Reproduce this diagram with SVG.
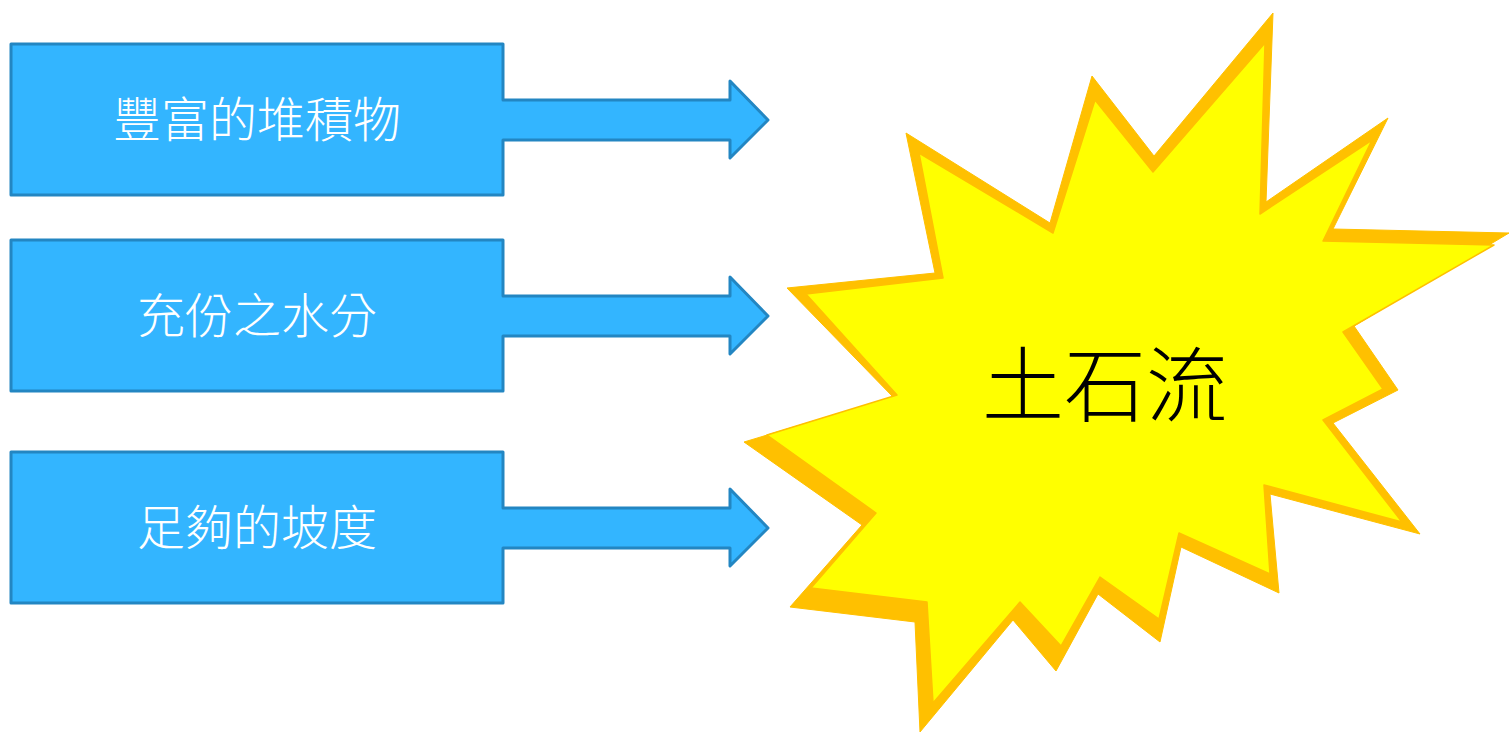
<svg xmlns="http://www.w3.org/2000/svg" width="1509" height="732" viewBox="0 0 1509 732">
<style>
.arrow{fill:#33B5FF;stroke:#2386C2;stroke-width:3;stroke-linejoin:round}
.lbl{fill:#FFFFFF;font-family:"Noto Sans CJK TC","Noto Sans CJK SC",sans-serif;font-size:48px;font-weight:300;text-anchor:middle;dominant-baseline:central}
.main{fill:#000000;font-family:"Noto Sans CJK TC","Noto Sans CJK SC",sans-serif;font-size:82px;font-weight:300;text-anchor:middle;dominant-baseline:central}
</style>
<rect width="1509" height="732" fill="#FFFFFF"/>
<g id="node1">
<path class="arrow" d="M11,44 H503 V100 H730 V81 L768,120 L730,158 V140 H503 V195 H11 Z"/>
<text class="lbl" x="257" y="116">豐富的堆積物</text>
</g>
<g id="node2">
<path class="arrow" d="M11,240 H503 V296 H730 V277 L768,316 L730,354 V336 H503 V391 H11 Z"/>
<text class="lbl" x="257" y="312">充份之水分</text>
</g>
<g id="node3">
<path class="arrow" d="M11,452 H503 V508 H730 V489 L768,528 L730,566 V548 H503 V603 H11 Z"/>
<text class="lbl" x="257" y="524">足夠的坡度</text>
</g>
<g id="node4">
<polygon fill="#FFC000" stroke="#FFC000" stroke-width="1" stroke-linejoin="round" points="1273,13 1266,202 1388,118 1333,229 1509,233 1354,326 1398,390 1333,423 1420,534 1270,494 1279,593 1181,547 1160,642 1098,594 1056,671 1013,620 920,732 915,622 790,607 862,525 744,442 893,397 787,288 935,273 906,133 1050,223 1092,76 1154,156"/>
<polygon fill="#FFFF00" stroke="#FFC000" stroke-width="1.5" stroke-linejoin="round" points="1265,43 1260,214 1372,140 1323,241 1494,245 1343,332 1383,389 1323,420 1402,522 1264,485 1270,574 1179,533 1159,619 1100,577 1061,646 1020,602 933,703 927,602 811,588 876,513 767,435 897,395 806,294 943,278 919,153 1053,233 1095,100 1153,172"/>
<text class="main" x="1105" y="379">土石流</text>
</g>
<g id="connectors"></g>
</svg>
